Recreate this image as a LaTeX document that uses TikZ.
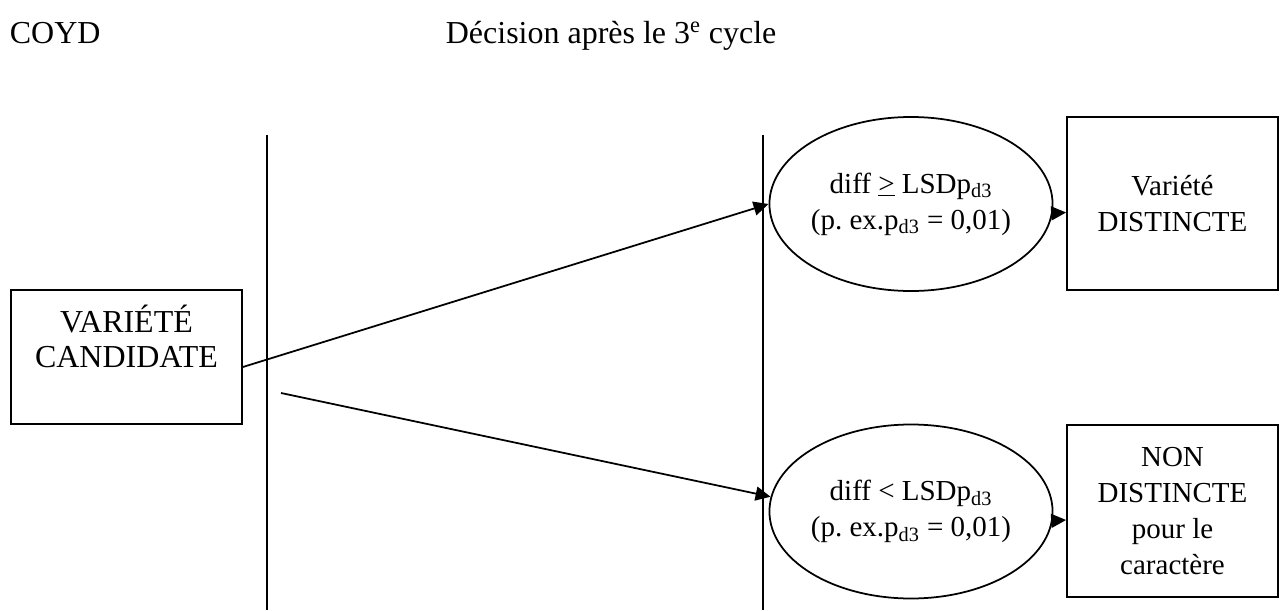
\documentclass[tikz,border=0pt]{standalone}
\usepackage{fontspec}
\setmainfont{Liberation Serif}
\usetikzlibrary{shapes.geometric,arrows.meta}
\begin{document}
\begin{tikzpicture}[>={Triangle[length=0.3cm,width=0.28cm]}, line width=1pt,
squarednode/.style={rectangle, draw=black, line width=1pt, inner sep=0pt, align=center, minimum width=4.22cm, font=\fontsize{16.5}{20.5}\selectfont},
ovalnode/.style={ellipse, draw=black, line width=1pt, inner sep=0pt, align=center, minimum width=5.32cm, minimum height=3.48cm, font=\fontsize{16.5}{20.5}\selectfont},
headtext/.style={inner sep=0pt, font=\fontsize{18.2}{21}\selectfont}]

\useasboundingbox (0,0) rectangle (25.64,12.2);

\node[headtext, anchor=base west](coyd) at (0.18, 11.32) {COYD};
\node[headtext, anchor=base west](heading) at (8.9, 11.32) {Décision après le 3\textsuperscript{e} cycle};

\node[rectangle, draw=black, minimum width=4.62cm, minimum height=2.68cm](candidate) at (2.53, 5.06) {};
\node[headtext, anchor=north, align=center, font=\fontsize{18.2}{19.9}\selectfont](candidatetext) at ([yshift=-0.3cm]candidate.north) {VARIÉTÉ\\CANDIDATE};

\coordinate (sepAtop) at (5.34, 9.5);
\coordinate (sepAbot) at (5.34, 0);
\coordinate (sepBtop) at (15.26, 9.5);
\coordinate (sepBbot) at (15.26, 0);
\draw (sepAtop) -- (sepAbot);
\draw (sepBtop) -- (sepBbot);

\node[ovalnode](diffge) at (18.22, 8.12){diff \underline{>} LSDp\textsubscript{d3}\\(p.\ ex.p\textsubscript{d3} = 0,01)};
\node[ovalnode](difflt) at (18.22, 1.97){diff < LSDp\textsubscript{d3}\\(p.\ ex.p\textsubscript{d3} = 0,01)};

\node[squarednode, minimum height=3.46cm](distinct) at (23.45, 8.13){Variété\\DISTINCTE};
\node[squarednode, minimum height=3.44cm](nondistinct) at (23.45, 1.98){NON\\DISTINCTE\\pour le\\caractère};

\coordinate (lowstart) at (5.62, 4.34);
\draw[->]([yshift=-0.2cm]candidate.east) -- (diffge.west);
\draw[->](lowstart) -- (difflt.174);

\draw[->]([xshift=0.08cm, yshift=-0.18cm]diffge.east) -- ([yshift=-0.18cm]distinct.west);
\draw[->]([xshift=0.08cm, yshift=-0.18cm]difflt.east) -- ([yshift=-0.18cm]nondistinct.west);

\end{tikzpicture}
\end{document}
